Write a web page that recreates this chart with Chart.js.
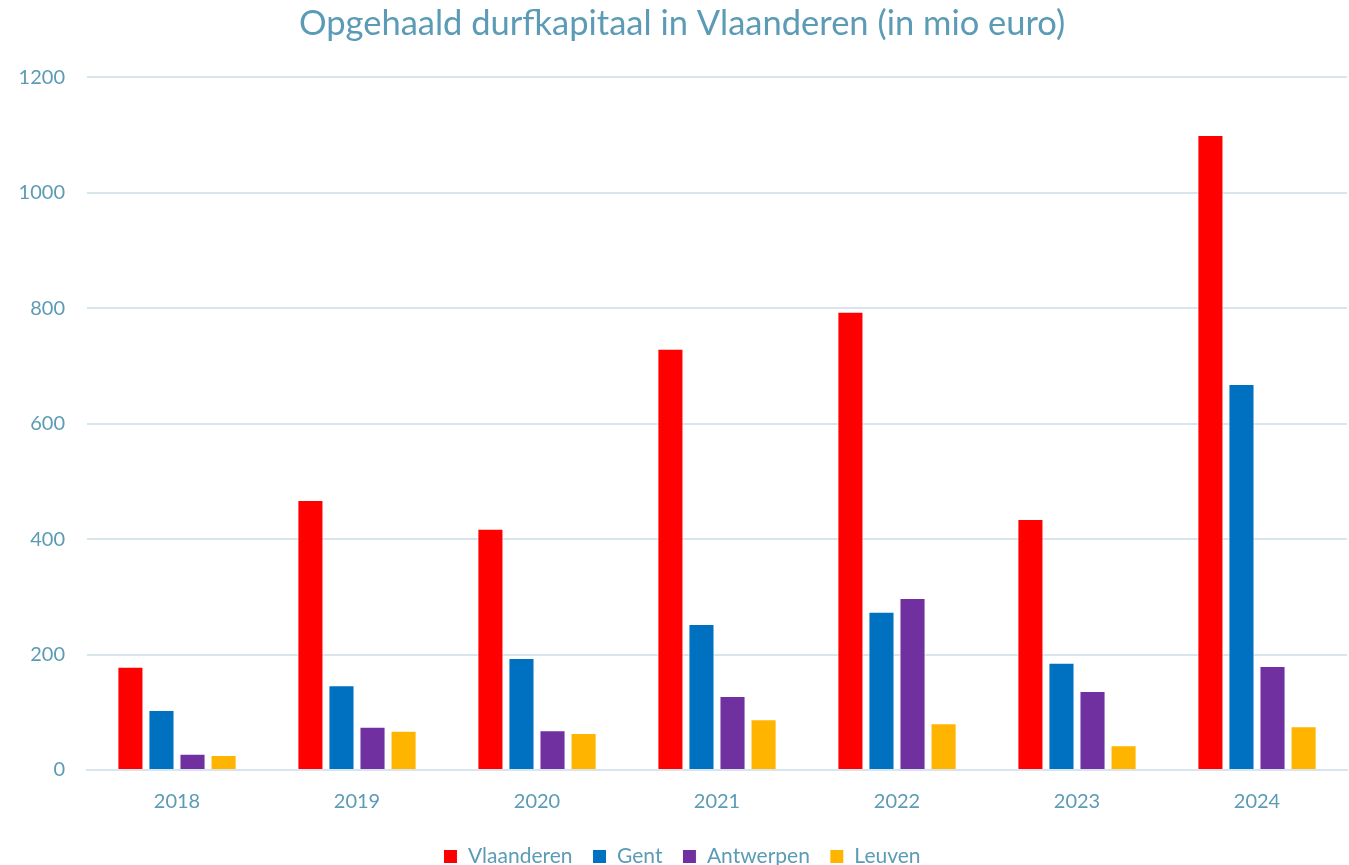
<!DOCTYPE html>
<html>
<head>
<meta charset="utf-8">
<script src="https://cdn.jsdelivr.net/npm/chart.js@4"></script>
<style>
  html, body { margin: 0; padding: 0; background: #fff; }
  #wrap { width: 1349px; height: 865px; }
</style>
</head>
<body>
<div id="wrap"><canvas id="grafiek" width="1349" height="865"></canvas></div>
<script>
const jaren = ['2018', '2019', '2020', '2021', '2022', '2023', '2024'];
const vlaanderen = [179, 468, 418, 730, 794, 435, 1100];
const gent = [104, 147, 194, 253, 274, 186, 669];
const antwerpen = [28, 75, 69, 128, 298, 137, 180];
const leuven = [26, 68, 64, 88, 81, 43, 76];
const yTicks = [0, 200, 400, 600, 800, 1000, 1200];

const tekstKleur = '#5b9bb5';
const font = "Lato, 'Open Sans', sans-serif";

const reeks = (label, data, kleur) => ({
    label, data,
    backgroundColor: kleur,
    borderColor: '#ffffff',
    borderWidth: 1,
    categoryPercentage: 0.69,
    barPercentage: 0.84
});

new Chart(document.getElementById('grafiek').getContext('2d'), {
    type: 'bar',
    data: {
        labels: jaren,
        datasets: [
            reeks('Vlaanderen', vlaanderen, '#ff0000'),
            reeks('Gent', gent, '#0070c0'),
            reeks('Antwerpen', antwerpen, '#7030a0'),
            reeks('Leuven', leuven, '#ffb400')
        ]
    },
    options: {
        responsive: false,
        animation: false,
        layout: { padding: { left: 17, right: 2, top: 3, bottom: -12 } },
        plugins: {
            title: {
                display: true,
                text: 'Opgehaald durfkapitaal in Vlaanderen (in mio euro)',
                color: tekstKleur,
                font: { family: font, size: 34.5, weight: 'normal' },
                padding: { top: 0, bottom: 33 }
            },
            legend: {
                position: 'bottom',
                labels: {
                    color: tekstKleur,
                    font: { family: font, size: 21 },
                    boxWidth: 14,
                    boxHeight: 14,
                    padding: 20
                }
            },
            tooltip: { enabled: false }
        },
        scales: {
            x: {
                grid: { display: false },
                border: { color: '#d9e5ec', width: 2 },
                ticks: { color: tekstKleur, font: { family: font, size: 20 }, padding: 12 }
            },
            y: {
                min: 0,
                max: 1200,
                afterBuildTicks: axis => { axis.ticks = yTicks.map(v => ({ value: v })); },
                afterFit: axis => { axis.width = 70; },
                grid: { color: '#d9e5ec', lineWidth: 2, drawTicks: false },
                border: { display: false },
                ticks: {
                    color: tekstKleur,
                    font: { family: font, size: 20 },
                    padding: 22,
                    callback: v => String(v)
                }
            }
        }
    }
});
</script>
</body>
</html>
